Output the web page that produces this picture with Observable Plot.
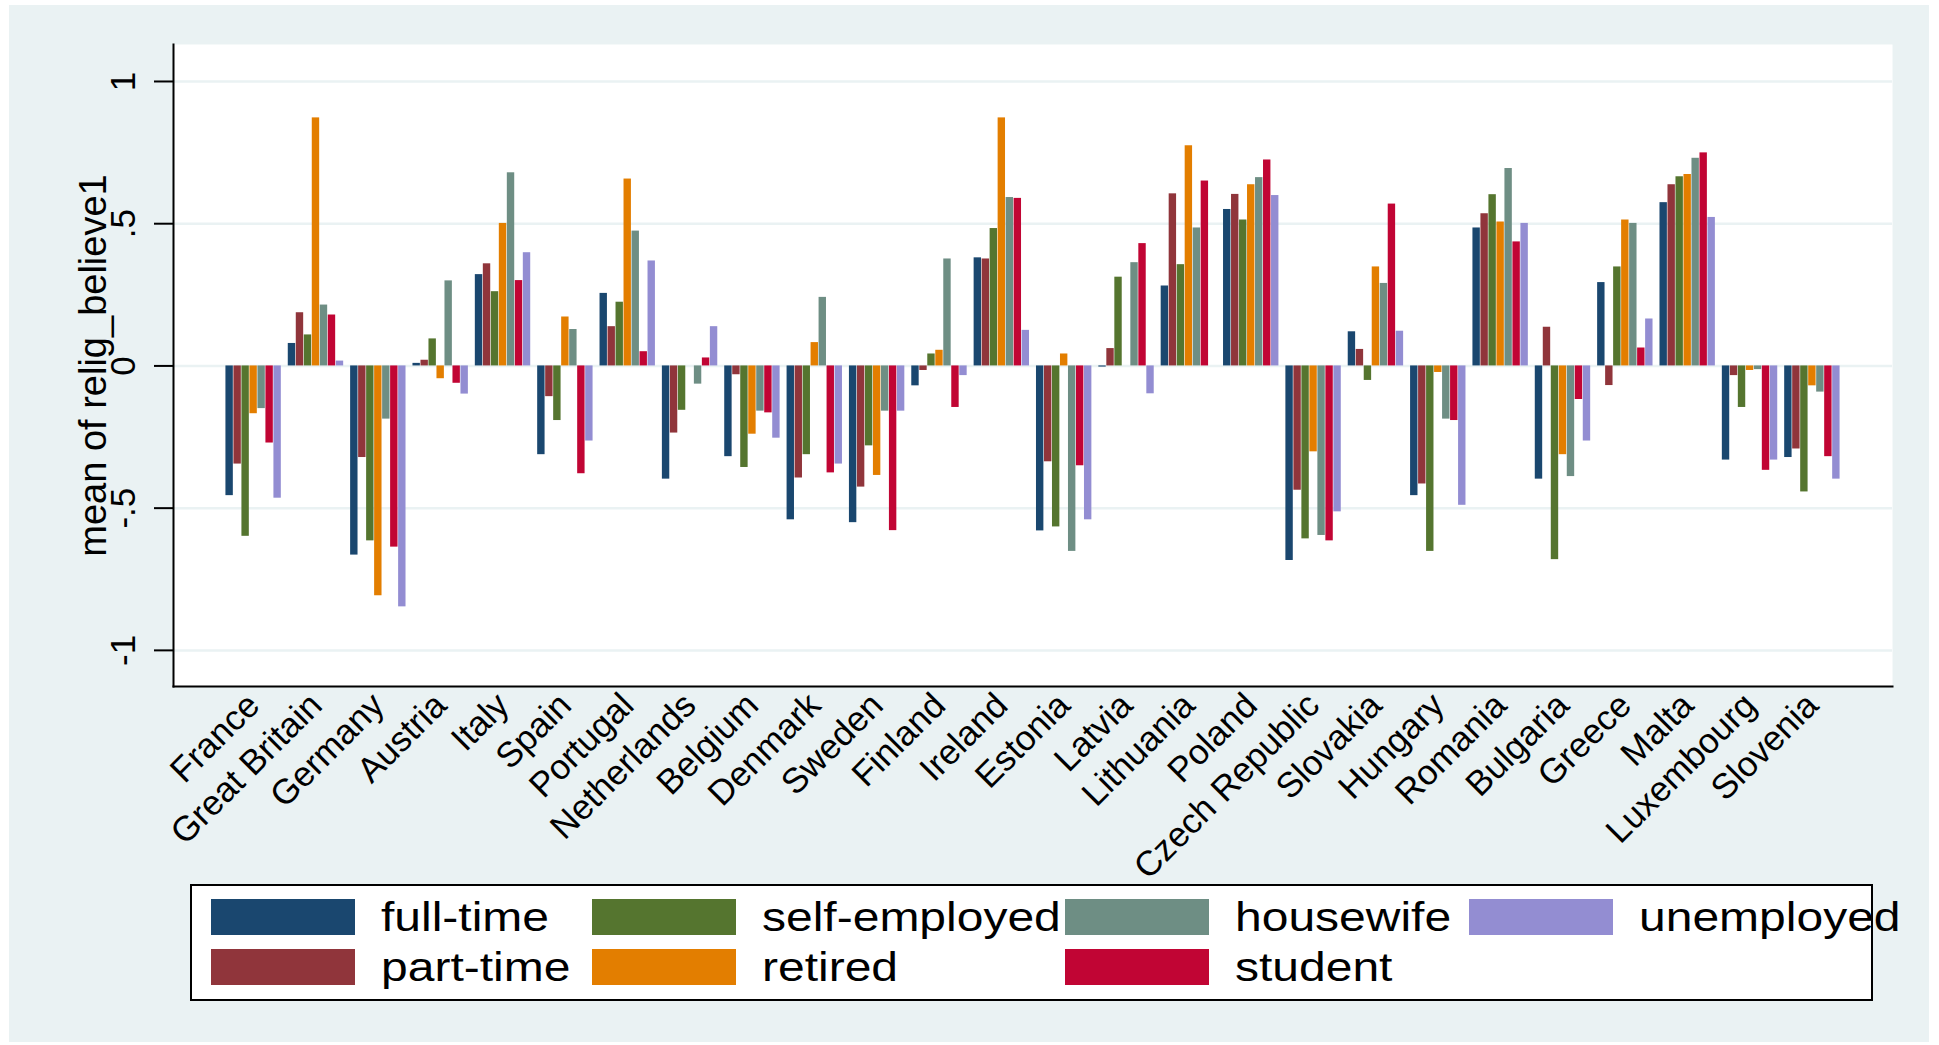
<!DOCTYPE html>
<html>
<head>
<meta charset="utf-8">
<script src="https://cdn.jsdelivr.net/npm/d3@7"></script>
<script src="https://cdn.jsdelivr.net/npm/@observablehq/plot@0.6"></script>
<style>
  body { margin: 0; background: #ffffff; font-family: "Liberation Sans", Arial, sans-serif; }
  #bg { position: absolute; left: 9px; top: 5px; width: 1920px; height: 1037px; background: #EAF2F3; }
  #chart { position: absolute; left: 0; top: 0; }
  #legend { position: absolute; left: 190px; top: 884px; width: 1679px; height: 113px; border: 2px solid #000; background: #fff; box-sizing: content-box; }
  #legend .grid { position: absolute; left: 19px; top: 13px; display: grid; grid-template-columns: 381px 473px 404px auto; row-gap: 14px; }
  #legend .item { display: flex; align-items: center; height: 36px; }
  #legend .sw { width: 144px; height: 36px; margin-right: 26px; flex: none; }
  #legend .lab { font-size: 40px; line-height: 36px; white-space: nowrap; color: #000; display: inline-block; transform: scaleX(1.2); transform-origin: 0 50%; }
</style>
</head>
<body>
<div id="bg"></div>
<div id="chart"></div>
<div id="legend"><div class="grid"></div></div>
<script>
const countries = ["France","Great Britain","Germany","Austria","Italy","Spain","Portugal","Netherlands","Belgium","Denmark","Sweden","Finland","Ireland","Estonia","Latvia","Lithuania","Poland","Czech Republic","Slovakia","Hungary","Romania","Bulgaria","Greece","Malta","Luxembourg","Slovenia"];
const statuses = ["full-time","part-time","self-employed","retired","housewife","student","unemployed"];
const colors = ["#1A476F","#90353B","#55752F","#E37E00","#6E8E84","#C10534","#938DD2"];

const fullTime     = [-0.456, 0.079,-0.665, 0.009, 0.321,-0.312, 0.255,-0.398,-0.319,-0.541,-0.551,-0.070, 0.380,-0.580,-0.004, 0.281, 0.550,-0.684, 0.120,-0.456, 0.485,-0.398, 0.293, 0.574,-0.331,-0.322];
const partTime     = [-0.345, 0.187,-0.322, 0.020, 0.359,-0.108, 0.138,-0.236,-0.031,-0.394,-0.426,-0.016, 0.376,-0.337, 0.061, 0.605, 0.603,-0.437, 0.058,-0.415, 0.535, 0.136,-0.069, 0.637,-0.034,-0.292];
const selfEmployed = [-0.599, 0.109,-0.615, 0.095, 0.261,-0.192, 0.224,-0.156,-0.357,-0.312,-0.281, 0.042, 0.483,-0.566, 0.312, 0.356, 0.513,-0.608,-0.051,-0.652, 0.602,-0.681, 0.348, 0.665,-0.146,-0.443];
const retired      = [-0.168, 0.872,-0.808,-0.045, 0.501, 0.172, 0.657, null,-0.240, 0.082,-0.385, 0.055, 0.872, 0.042, null, 0.774, 0.637,-0.302, 0.348,-0.023, 0.506,-0.312, 0.513, 0.673,-0.016,-0.070];
const housewife    = [-0.150, 0.214,-0.187, 0.299, 0.679, 0.128, 0.474,-0.064,-0.159, 0.241,-0.159, 0.376, 0.592,-0.652, 0.363, 0.485, 0.662,-0.596, 0.290,-0.187, 0.694,-0.389, 0.501, 0.730,-0.013,-0.092];
const student      = [-0.271, 0.179,-0.637,-0.061, 0.300,-0.379, 0.050, 0.028,-0.165,-0.376,-0.579,-0.146, 0.589,-0.351, 0.430, 0.650, 0.724,-0.615, 0.569,-0.192, 0.436,-0.118, 0.063, 0.749,-0.367,-0.319];
const unemployed   = [-0.465, 0.017,-0.847,-0.099, 0.398,-0.264, 0.369, 0.138,-0.254,-0.345,-0.159,-0.034, 0.125,-0.541,-0.098, null, 0.599,-0.513, 0.122,-0.490, 0.501,-0.264, 0.165, 0.522,-0.331,-0.398];

const yTicks = [-1, -0.5, 0, 0.5, 1];
const yTickLabels = ["-1", "-.5", "0", ".5", "1"];
const yTitle = "mean of relig_believe1";

const series = [fullTime, partTime, selfEmployed, retired, housewife, student, unemployed];
const rows = statuses.flatMap((s, k) => countries.map((c, i) => ({country: c, status: s, value: series[k][i]})));

const W = 1939, H = 920, mL = 173, mR = 47, mT = 44, mB = 234;
const pIn = 0.102, pOut = 0.836;
const xOpts = {type: "band", domain: countries, paddingInner: pIn, paddingOuter: pOut, round: false};
let bw;
try { bw = Plot.scale({x: {...xOpts, range: [mL, W - mR]}}).bandwidth; } catch (e) {}
if (!bw) { const step = (W - mL - mR) / (countries.length - pIn + 2 * pOut); bw = step * (1 - pIn); }
const slot = bw / statuses.length;

const fmt = d => yTickLabels[yTicks.indexOf(d)];

const plot = Plot.plot({
  width: W, height: H,
  marginLeft: mL, marginRight: mR, marginTop: mT, marginBottom: mB,
  style: {background: "transparent", fontFamily: "'Liberation Sans', Arial, sans-serif", color: "#000", overflow: "visible"},
  x: {...xOpts, axis: null},
  y: {domain: [-1.127, 1.13], axis: null},
  color: {domain: statuses, range: colors},
  marks: [
    Plot.frame({fill: "white", stroke: "none"}),
    Plot.ruleY(yTicks, {stroke: "#EAF2F3", strokeWidth: 2.5}),
    ...statuses.map((s, k) => Plot.barY(rows.filter(d => d.status === s && d.value != null), {
      x: "country", y: "value", fill: "status",
      insetLeft: k * slot + 0.3, insetRight: (statuses.length - 1 - k) * slot + 0.3
    })),
    Plot.frame({anchor: "left", stroke: "#000", strokeWidth: 2}),
    Plot.frame({anchor: "bottom", stroke: "#000", strokeWidth: 2}),
    Plot.axisY({ticks: yTicks, tickSize: 19, tickRotate: -90, tickPadding: 20, tickFormat: fmt, fontSize: 35,
      stroke: "#000", strokeWidth: 2, label: null}),
    Plot.axisY({ticks: [], tickSize: 0, fontSize: 38, label: yTitle, labelAnchor: "center", labelOffset: 94, labelArrow: "none"}),
    Plot.axisX({tickSize: 0, tickRotate: -45, tickPadding: 13, fontSize: 35, label: null})
  ]
});
document.getElementById("chart").appendChild(plot);

// legend (Stata column-first order)
const legendOrder = ["full-time", "self-employed", "housewife", "unemployed", "part-time", "retired", "student"];
const grid = document.querySelector("#legend .grid");
for (const s of legendOrder) {
  const item = document.createElement("div");
  item.className = "item";
  const sw = document.createElement("div");
  sw.className = "sw";
  sw.style.background = colors[statuses.indexOf(s)];
  const lab = document.createElement("span");
  lab.className = "lab";
  lab.textContent = s;
  item.appendChild(sw); item.appendChild(lab);
  grid.appendChild(item);
}
</script>
</body>
</html>
